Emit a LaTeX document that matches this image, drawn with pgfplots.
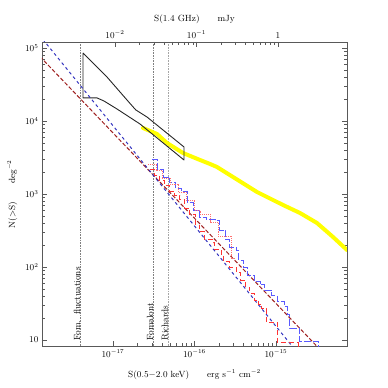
\documentclass[border=0pt]{standalone}
\usepackage{pgfplots}
\pgfplotsset{compat=1.18}

\definecolor{brownline}{rgb}{0.62,0.12,0.12}
\definecolor{bluestr}{rgb}{0.2,0.2,0.75}
\definecolor{bluestep}{rgb}{0.35,0.35,1}
\definecolor{redstep}{rgb}{1,0.2,0.2}
\definecolor{fluxyel}{rgb}{1,1,0}

\begin{document}
\begin{tikzpicture}
\begin{axis}[
  scale only axis,
  width=305bp, height=304bp,
  xmode=log, ymode=log,
  xmin=1.345e-18, xmax=7.43e-15,
  ymin=8.277, ymax=1.208e5,
  xtick={1e-17,1e-16,1e-15},
  ytick={10,100,1000,10000,100000},
  yticklabels={$10$,$10^2$,$10^3$,$10^4$,$10^5$},
  xtick pos=left, ytick pos=both,
  tick align=inside,
  major tick length=5bp, minor tick length=3bp,
  tick style={gray!70!black, line width=0.5bp},
  axis line style={gray!70!black, line width=0.7bp},
  tick label style={font=\small},
  label style={font=\small},
  xlabel={S(0.5$-$2.0 keV)\qquad erg s$^{-1}$ cm$^{-2}$},
  ylabel={N($>$S)\qquad deg$^{-2}$},
  xlabel style={yshift=-6bp},
  ylabel style={yshift=1bp},
  clip=true,
]
% limits of the radio surveys
\addplot[gray, densely dotted, line width=0.6bp] coordinates {(3.94e-18,1) (3.94e-18,1e6)};
\addplot[gray, densely dotted, line width=0.6bp] coordinates {(3.10e-17,1) (3.10e-17,1e6)};
\addplot[gray!70, densely dotted, line width=0.6bp] coordinates {(4.73e-17,1) (4.73e-17,1e6)};
\node[rotate=90, anchor=base west, font=\small, inner sep=1bp] at (axis cs:3.94e-18,9.4) {Fom.\ \ fluctuations};
\node[rotate=90, anchor=base west, font=\small, inner sep=1bp] at (axis cs:3.10e-17,9.4) {Fomalont};
\node[rotate=90, anchor=base west, font=\small, inner sep=1bp] at (axis cs:4.73e-17,9.4) {Richards};

% radio counts
\addplot[fluxyel, line width=4bp, line cap=round, line join=round] coordinates {
(2.333e-17,8020) (2.844e-17,7295) (3.466e-17,6636) (4.599e-17,4996)
(7.226e-17,3645) (1.168e-16,2923) (1.550e-16,2576) (1.888e-16,2344)
(2.967e-16,1709) (5.846e-16,1065) (7.754e-16,909.8) (1.219e-15,707.1)
(1.970e-15,549.2) (3.184e-15,400.6) (5.005e-15,257.6) (7.43e-15,171.0)};

% fluctuation constraint
\addplot[black!85, line width=0.9bp, line join=round] coordinates {
(4.28e-18,8.55e4) (4.28e-18,2.07e4) (6.37e-18,2.07e4) (7.757e-18,1.879e4)
(1.120e-17,1.460e4) (2.144e-17,9098) (7.43e-17,2923) (7.43e-17,4410)
(2.613e-17,1.134e4) (1.900e-17,1.420e4) (1.485e-17,1.940e4)
(8.44e-18,4.006e4) (4.28e-18,8.55e4)};

% model power laws
\addplot[brownline, line width=1bp, dash pattern=on 4bp off 2bp] coordinates {(1e-18,1.01e5) (1e-14,2.15)};
\addplot[bluestr, line width=1bp, dash pattern=on 3bp off 3bp] coordinates {(1e-18,2.04e5) (3.16e-15,3.17)};

% source counts (histograms)
\addplot[bluestep, line width=1bp, dash pattern=on 7bp off 2bp, const plot] coordinates {
(3.010e-17,2923) (3.565e-17,2132) (4.224e-17,1709) (5.005e-17,1415)
(5.929e-17,1208) (7.024e-17,1065) (8.322e-17,752.9) (9.860e-17,603.6)
(1.168e-16,484.0) (1.384e-16,440.4) (1.835e-16,426.7) (2.055e-16,321.2)
(2.435e-16,234.4) (2.726e-16,187.9) (3.321e-16,165.7) (3.516e-16,124.7)
(4.049e-16,96.9) (4.532e-16,77.7) (5.372e-16,64.3) (6.364e-16,56.7)
(7.328e-16,48.4) (8.931e-16,40.1) (1.029e-15,34.2) (1.254e-15,29.2)
(1.365e-15,22.7) (1.485e-15,14.60) (1.970e-15,9.69) (3.276e-15,1)};
\addplot[redstep, line width=1bp, dash pattern=on 5bp off 3bp, const plot] coordinates {
(2.844e-17,2132) (3.275e-17,1765) (3.773e-17,1507) (4.345e-17,1287)
(5.005e-17,1099) (5.763e-17,938.8) (6.638e-17,827.6) (7.645e-17,642.9)
(8.805e-17,515.6) (1.043e-16,376.1) (1.168e-16,301.7) (1.345e-16,234.4)
(1.687e-16,213.2) (1.784e-16,171.0) (2.174e-16,146.0) (2.301e-16,117.1)
(2.726e-16,96.9) (3.321e-16,82.76) (3.720e-16,66.36) (4.283e-16,53.21)
(4.797e-16,44.04) (5.372e-16,35.31) (6.185e-16,31.13) (6.732e-16,26.59)
(7.754e-16,17.10) (1.058e-15,9.10) (1.862e-15,1)};
\addplot[redstep!70, line width=0.9bp, densely dotted, const plot] coordinates {
(2.688e-17,2576) (3.369e-17,2132) (3.991e-17,1657) (5.005e-17,1371)
(6.272e-17,1065) (7.864e-17,827.6) (9.860e-17,603.6) (1.168e-16,532.1)
(1.550e-16,413.5) (1.942e-16,265.9) (2.804e-16,132.8) (3.229e-16,132.8)};
\end{axis}

\begin{axis}[
  scale only axis,
  width=305bp, height=304bp,
  xmode=log,
  xmin=1.27e-3, xmax=7.03,
  ymin=0, ymax=1,
  axis x line*=top,
  axis y line=none,
  xtick={1e-2,1e-1,1},
  xticklabels={$10^{-2}$,$10^{-1}$,$1$},
  tick align=inside,
  major tick length=5bp, minor tick length=3bp,
  tick style={gray!70!black, line width=0.5bp},
  axis line style={gray!70!black, line width=0.7bp},
  tick label style={font=\small},
  label style={font=\small},
  xlabel={S(1.4 GHz)\qquad mJy},
]
\end{axis}
\pgfresetboundingbox
\path[use as bounding box] (-42bp,-42bp) rectangle (346bp,346bp);
\end{tikzpicture}
\end{document}
